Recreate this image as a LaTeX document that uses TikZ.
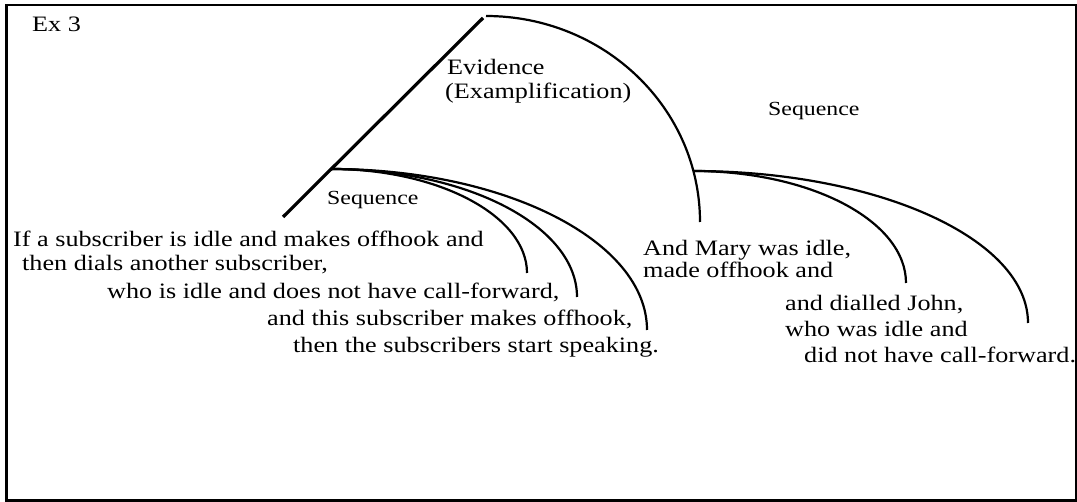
\documentclass[tikz,border=0pt]{standalone}
\usepackage{fontspec}
\setmainfont{Liberation Serif}[FakeStretch=1.19]
\begin{document}
\begin{tikzpicture}[x=1pt,y=-1pt,
  txt/.style={anchor=base west,inner sep=0pt,font=\fontsize{22}{26}\selectfont},
  lbl/.style={anchor=base west,inner sep=0pt,font=\fontsize{20}{24}\selectfont},
  frame/.style={line width=2.5pt},
  stem/.style={line width=3.2pt},
  branch/.style={line width=2.2pt}]
\useasboundingbox (0,0) rectangle (1077,502);
\draw[frame] (6.5,5) rectangle (1075.8,500.5);

% tree joints and ends
\coordinate (stemlo) at (283,217);
\coordinate (stemhi) at (483,18);
\coordinate (Lj) at (331,169);
\coordinate (evtop) at (486,16);
\coordinate (evbot) at (700,222);
\coordinate (Rj) at (693,171);
\coordinate (L1) at (527,273);
\coordinate (L2) at (577,297);
\coordinate (L3) at (647,330);
\coordinate (R1) at (906,283);
\coordinate (R2) at (1028,323);

% Evidence relation: nucleus stem and satellite arc
\draw[stem] (stemlo) -- (stemhi);
\draw[branch] (evtop) .. controls (604,16) and (700,108) .. (evbot);

% left sequence
\draw[branch] (Lj) .. controls (439,169) and (527,216) .. (L1);
\draw[branch] (Lj) .. controls (467,169) and (577,226) .. (L2);
\draw[branch] (Lj) .. controls (505,169) and (647,241) .. (L3);

% right sequence
\draw[branch] (Rj) .. controls (811,171) and (906,221) .. (R1);
\draw[branch] (Rj) .. controls (878,171) and (1028,239) .. (R2);

% labels
\node[txt] (ex) at (32,32) {Ex 3};
\node[txt] (ev1) at (447,75) {Evidence};
\node[txt] (ev2) at (445,99) {(Examplification)};
\node[lbl] (seqR) at (768,116) {Sequence};
\node[lbl] (seqL) at (327,205) {Sequence};

% left text
\node[txt] (a1) at (13,247) {If a subscriber is idle and makes offhook and};
\node[txt] (a2) at (22,271) {then dials another subscriber,};
\node[txt] (a3) at (107,299) {who is idle and does not have call-forward,};
\node[txt] (a4) at (267,326) {and this subscriber makes offhook,};
\node[txt] (a5) at (293,353) {then the subscribers start speaking.};

% right text
\node[txt] (b1) at (643,256) {And Mary was idle,};
\node[txt] (b2) at (643,278) {made offhook and};
\node[txt] (b3) at (785,311) {and dialled John,};
\node[txt] (b4) at (785,337) {who was idle and};
\node[txt] (b5) at (804,363) {did not have call-forward.};
\end{tikzpicture}
\end{document}
